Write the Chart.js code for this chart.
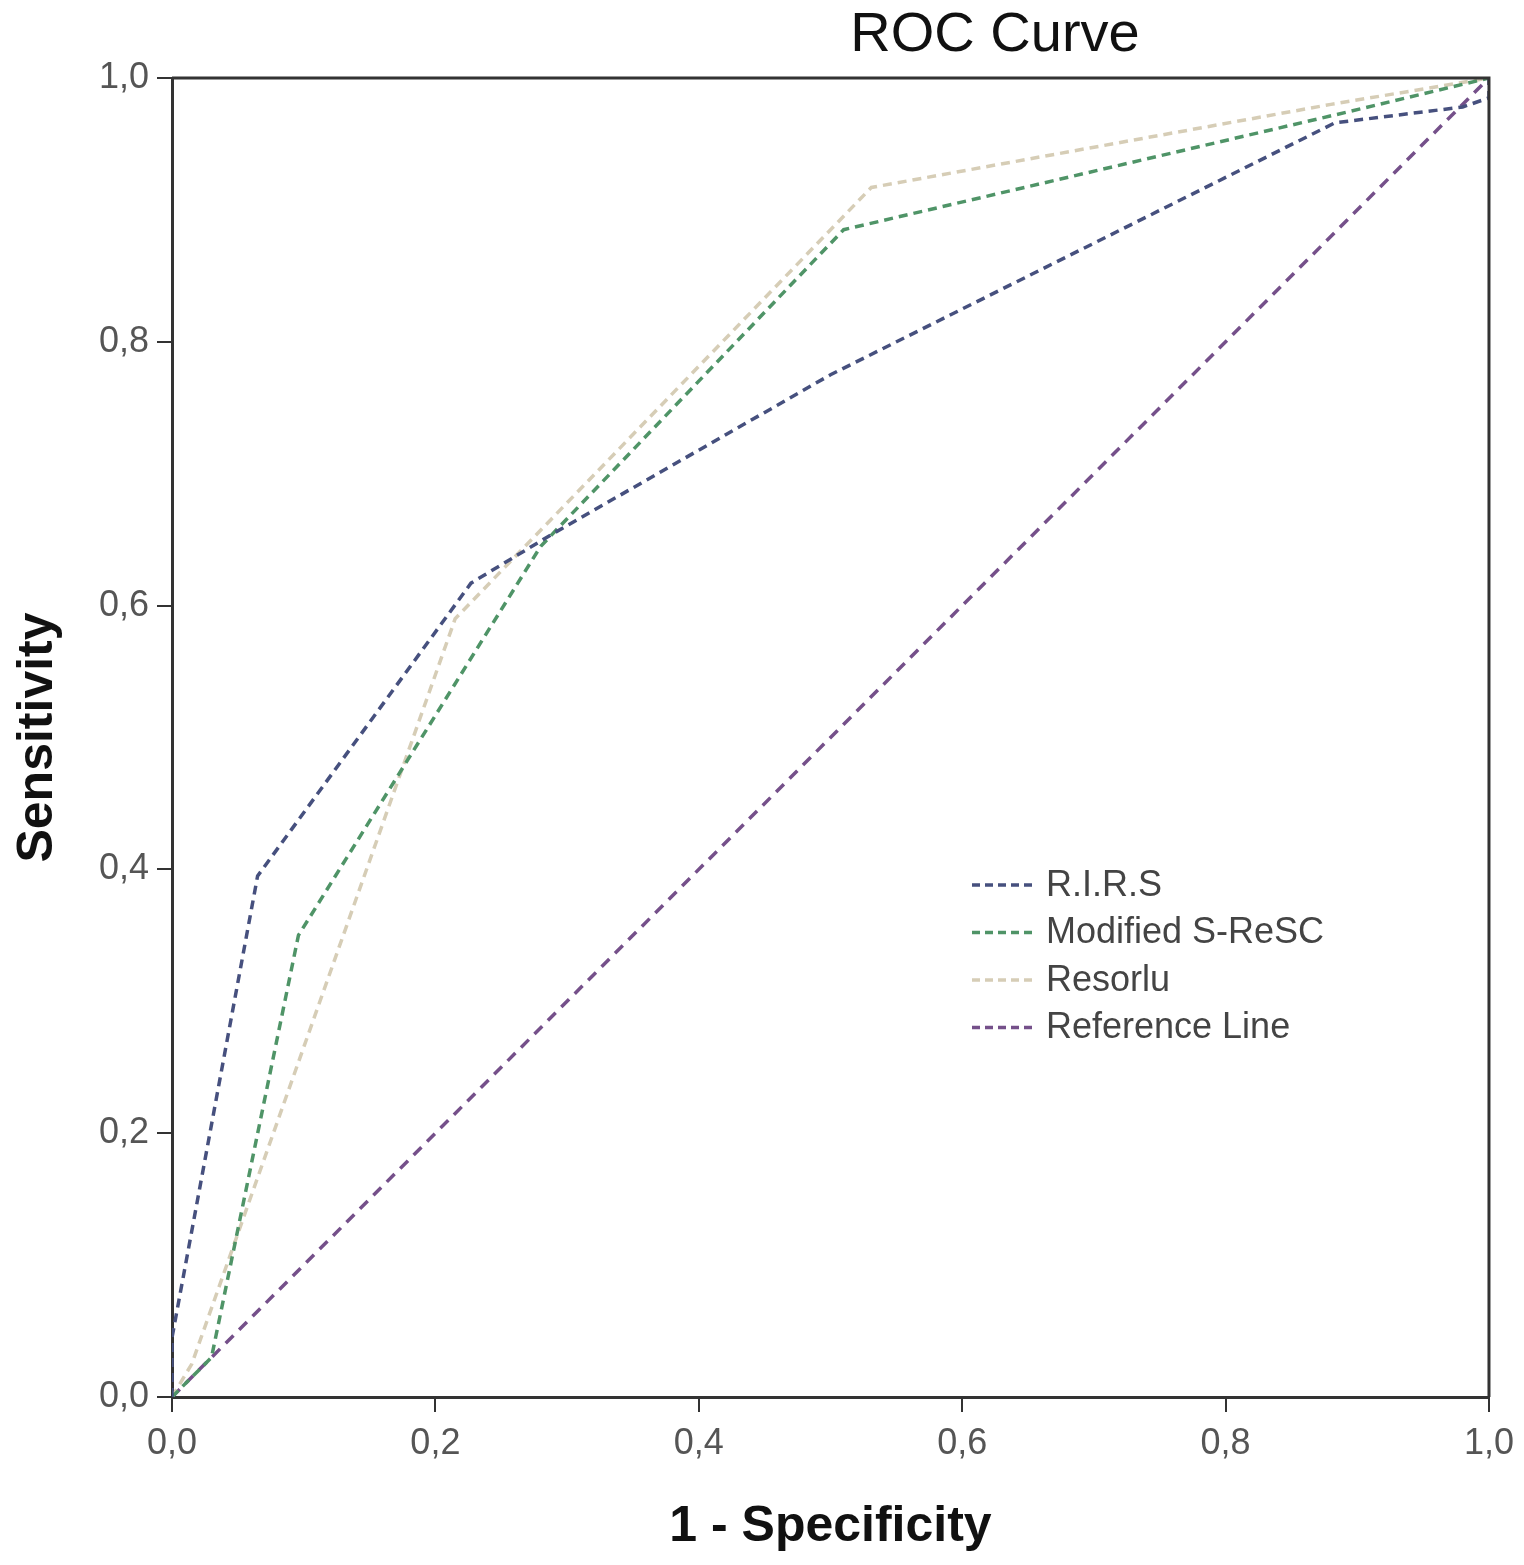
<!DOCTYPE html>
<html>
<head>
<meta charset="utf-8">
<script src="https://cdn.jsdelivr.net/npm/chart.js@4.4.0/dist/chart.umd.min.js"></script>
<style>
  html, body { margin: 0; padding: 0; background: #fff; }
  #wrap { width: 1524px; height: 1565px; }
</style>
</head>
<body>
<div id="wrap"><canvas id="myChart" width="1524" height="1565"></canvas></div>
<script>
// values (1 - specificity, sensitivity)
const chartTitle = 'ROC Curve';
const seriesNames = ['R.I.R.S', 'Modified S-ReSC', 'Resorlu', 'Reference Line'];
const rirsX = [0, 0, 0.065, 0.227, 0.29, 0.5, 0.883, 0.98, 1, 1];
const rirsY = [0, 0.045, 0.395, 0.617, 0.655, 0.775, 0.966, 0.978, 0.985, 1];
const srescX = [0, 0.03, 0.096, 0.28, 0.51, 0.883, 1];
const srescY = [0, 0.03, 0.35, 0.645, 0.885, 0.972, 1];
const resorluX = [0, 0.015, 0.215, 0.531, 0.88, 1];
const resorluY = [0, 0.025, 0.59, 0.917, 0.98, 1];
const refX = [0, 1];
const refY = [0, 1];
const tickValues = [0, 0.2, 0.4, 0.6, 0.8, 1.0];

const colors = ['#46507e', '#4f9467', '#d6cdb6', '#75508a'];

function pts(xs, ys) {
    return xs.map(function (x, i) { return { x: x, y: ys[i] }; });
}
function fmt(v) {
    return v.toFixed(1).replace('.', ',');
}

const data = {
    datasets: [
        { label: seriesNames[0], data: pts(rirsX, rirsY), borderColor: colors[0], borderDash: [9, 6] },
        { label: seriesNames[1], data: pts(srescX, srescY), borderColor: colors[1], borderDash: [9, 6] },
        { label: seriesNames[2], data: pts(resorluX, resorluY), borderColor: colors[2], borderDash: [9, 6] },
        { label: seriesNames[3], data: pts(refX, refY), borderColor: colors[3], borderDash: [11, 8] }
    ]
};
data.datasets.forEach(function (d) {
    d.showLine = true;
    d.pointRadius = 0;
    d.borderWidth = 3.5;
    d.fill = false;
    d.tension = 0;
});

// box round the plot + title + legend drawn inside the plot
const extras = {
    id: 'extras',
    afterDatasetsDraw: function (chart) {
        const ctx = chart.ctx;
        const a = chart.chartArea;
        ctx.save();
        ctx.strokeStyle = '#333';
        ctx.lineWidth = 3;
        ctx.beginPath();
        ctx.moveTo(a.left, a.top);
        ctx.lineTo(a.right, a.top);
        ctx.lineTo(a.right, a.bottom);
        ctx.stroke();

        ctx.fillStyle = '#111';
        ctx.font = '56px "Liberation Sans", Arial, sans-serif';
        ctx.textAlign = 'center';
        ctx.textBaseline = 'middle';
        ctx.fillText(chartTitle, 995, 36);

        // legend
        const lx = 972, ly = 885, gap = 47.5;
        ctx.font = '36px "Liberation Sans", Arial, sans-serif';
        ctx.textAlign = 'left';
        chart.data.datasets.forEach(function (d, i) {
            const y = ly + i * gap;
            ctx.strokeStyle = d.borderColor;
            ctx.lineWidth = 3.5;
            ctx.setLineDash([8, 5]);
            ctx.beginPath();
            ctx.moveTo(lx, y);
            ctx.lineTo(lx + 62, y);
            ctx.stroke();
            ctx.setLineDash([]);
            ctx.fillStyle = '#444';
            ctx.fillText(d.label, lx + 74, y + 1);
        });
        ctx.restore();
    }
};

const ctx = document.getElementById('myChart').getContext('2d');
const myChart = new Chart(ctx, {
    type: 'scatter',
    data: data,
    options: {
        responsive: false,
        animation: false,
        layout: { padding: { top: 78, right: 34, left: 0, bottom: 0 } },
        plugins: {
            legend: { display: false },
            tooltip: { enabled: false }
        },
        scales: {
            x: {
                type: 'linear', min: 0, max: 1,
                afterFit: function (s) { s.height = 168; },
                afterBuildTicks: function (s) { s.ticks = tickValues.map(function (v) { return { value: v }; }); },
                grid: { drawOnChartArea: false, drawTicks: true, tickLength: 15, color: '#333', lineWidth: 2 },
                border: { display: true, color: '#333', width: 3 },
                ticks: {
                    callback: fmt, color: '#555', padding: 10, maxRotation: 0,
                    font: { family: '"Liberation Sans", Arial, sans-serif', size: 36 }
                },
                title: {
                    display: true, text: '1 - Specificity', color: '#111',
                    font: { family: '"Liberation Sans", Arial, sans-serif', size: 50, weight: 'bold' },
                    padding: { top: 0, bottom: 8 }
                }
            },
            y: {
                type: 'linear', min: 0, max: 1,
                afterFit: function (s) { s.width = 172; },
                afterBuildTicks: function (s) { s.ticks = tickValues.map(function (v) { return { value: v }; }); },
                grid: { drawOnChartArea: false, drawTicks: true, tickLength: 15, color: '#333', lineWidth: 2 },
                border: { display: true, color: '#333', width: 3 },
                ticks: {
                    callback: fmt, color: '#555', padding: 8,
                    font: { family: '"Liberation Sans", Arial, sans-serif', size: 36 }
                },
                title: {
                    display: true, text: 'Sensitivity', color: '#111',
                    font: { family: '"Liberation Sans", Arial, sans-serif', size: 50, weight: 'bold' },
                    padding: { top: 8, bottom: 0 }
                }
            }
        }
    },
    plugins: [extras]
});
</script>
</body>
</html>
